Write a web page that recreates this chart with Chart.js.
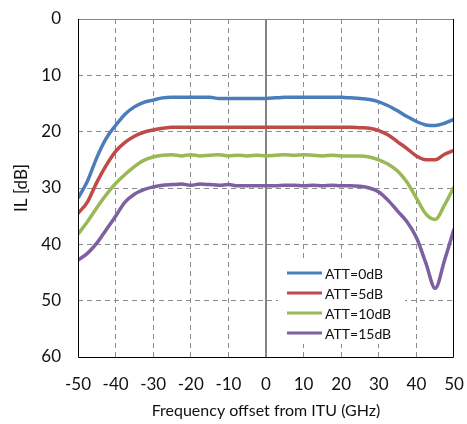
<!DOCTYPE html>
<html>
<head>
<meta charset="utf-8">
<script src="https://cdn.jsdelivr.net/npm/chart.js@4"></script>
<style>
  html, body { margin: 0; padding: 0; background: #fff; }
  #wrap { width: 467px; height: 424px; }
</style>
</head>
<body>
<div id="wrap"><canvas id="ilchart" width="467" height="424"></canvas></div>
<script>
// frequency offset (GHz)
var freq = [-50, -47.5, -45, -42.5, -40, -37.5, -35, -32.5, -30, -27.5, -25, -22.5, -20, -17.5, -15, -12.5, -10, -7.5, -5, -2.5,
  0, 2.5, 5, 7.5, 10, 12.5, 15, 17.5, 20, 22.5, 25, 27.5, 30, 32.5, 35, 37.5, 40, 42.5, 45, 47.5, 50];
var att0 = [31.8, 28.8, 24.6, 21.2, 18.9, 16.9, 15.6, 14.8, 14.4, 14.0, 13.9, 13.9, 13.9, 13.9, 13.9, 14.1, 14.1, 14.1, 14.1, 14.1,
  14.1, 14.0, 13.9, 13.9, 13.9, 13.9, 13.9, 13.9, 13.9, 14.0, 14.1, 14.3, 14.7, 15.4, 16.3, 17.3, 18.2, 18.8, 18.9, 18.5, 17.8];
var att5 = [34.5, 32.5, 29.0, 26.0, 23.5, 21.9, 20.8, 20.1, 19.7, 19.4, 19.2, 19.2, 19.2, 19.2, 19.2, 19.2, 19.2, 19.2, 19.2, 19.2,
  19.2, 19.2, 19.2, 19.2, 19.2, 19.2, 19.2, 19.2, 19.2, 19.2, 19.3, 19.4, 19.8, 20.6, 21.8, 23.0, 24.3, 25.0, 25.0, 24.0, 23.3];
var att10 = [38.2, 36.0, 33.5, 31.2, 29.2, 27.6, 26.2, 25.1, 24.5, 24.2, 24.1, 24.3, 24.1, 24.3, 24.2, 24.1, 24.3, 24.2, 24.3, 24.2,
  24.3, 24.2, 24.1, 24.2, 24.1, 24.2, 24.3, 24.2, 24.3, 24.3, 24.3, 24.5, 25.0, 25.8, 27.0, 29.0, 31.8, 34.6, 35.6, 33.0, 29.8];
var att15 = [42.8, 41.6, 39.8, 37.4, 35.0, 32.5, 31.1, 30.3, 29.8, 29.5, 29.4, 29.3, 29.5, 29.3, 29.4, 29.5, 29.4, 29.6, 29.6, 29.6,
  29.6, 29.6, 29.5, 29.5, 29.6, 29.5, 29.6, 29.5, 29.6, 29.6, 29.7, 30.0, 30.7, 32.2, 34.1, 36.0, 38.8, 43.3, 47.8, 42.8, 37.3];
var seriesNames = ['ATT=0dB', 'ATT=5dB', 'ATT=10dB', 'ATT=15dB'];
var seriesColors = ['#4a7ebb', '#be4b48', '#98b954', '#7d60a0'];
var seriesValues = [att0, att5, att10, att15];

var fontFam = 'Lato, "Open Sans", sans-serif';

function toPoints(vals)
{
  var pts = [];
  for (var i = 0; i < freq.length; i++) {
    pts.push({x: freq[i], y: vals[i]});
  }
  return pts;
}

var datasets = [];
for (var s = 0; s < seriesNames.length; s++) {
  datasets.push({
    label: seriesNames[s],
    data: toPoints(seriesValues[s]),
    borderColor: seriesColors[s],
    backgroundColor: seriesColors[s],
    borderWidth: 3.5,
    pointRadius: 0,
    cubicInterpolationMode: 'monotone',
    fill: false
  });
}

// frame, centre line and the boxed legend
var decorations = {
  id: 'decorations',
  beforeDatasetsDraw: function(chart) {
    var c = chart.ctx, a = chart.chartArea;
    var x0 = chart.scales.x.getPixelForValue(0);
    c.save();
    c.strokeStyle = '#858585';
    c.lineWidth = 2;
    c.beginPath();
    c.moveTo(x0, a.top);
    c.lineTo(x0, a.bottom);
    c.stroke();
    c.restore();
  },
  afterDraw: function(chart) {
    var c = chart.ctx, a = chart.chartArea;
    c.save();
    // frame
    c.lineWidth = 1;
    c.strokeStyle = '#868686';
    c.beginPath();
    c.moveTo(a.left, a.top + 0.5);
    c.lineTo(a.right, a.top + 0.5);
    c.stroke();
    c.strokeStyle = '#000';
    c.beginPath();
    c.moveTo(a.left + 0.5, a.top);
    c.lineTo(a.left + 0.5, a.bottom + 0.5);
    c.lineTo(a.right - 0.5, a.bottom + 0.5);
    c.lineTo(a.right - 0.5, a.top);
    c.stroke();
    // legend
    var bx = a.right - 176, by = a.bottom - 95, bw = 127, bh = 82;
    c.fillStyle = '#fff';
    c.fillRect(bx, by, bw, bh);
    c.font = '14px ' + fontFam;
    c.textBaseline = 'middle';
    c.textAlign = 'left';
    for (var i = 0; i < seriesNames.length; i++) {
      var yy = by + 11 + i * 20;
      c.strokeStyle = seriesColors[i];
      c.lineWidth = 3;
      c.beginPath();
      c.moveTo(bx + 9, yy);
      c.lineTo(bx + 44, yy);
      c.stroke();
      c.fillStyle = '#111';
      c.fillText(seriesNames[i], bx + 47, yy + 1);
    }
    c.restore();
  }
};

function gridColor(ctx)
{
  var v = ctx.tick ? ctx.tick.value : null;
  if (ctx.scale.axis === 'x' && (v === -50 || v === 0 || v === 50)) return 'rgba(0,0,0,0)';
  if (ctx.scale.axis === 'y' && (v === 0 || v === 60)) return 'rgba(0,0,0,0)';
  return '#8c8c8c';
}

new Chart(document.getElementById('ilchart'), {
  type: 'line',
  data: { datasets: datasets },
  plugins: [decorations],
  options: {
    responsive: false,
    animation: false,
    layout: { padding: { left: 0, top: 19, right: 13, bottom: 0 } },
    plugins: { legend: { display: false }, tooltip: { enabled: false } },
    scales: {
      x: {
        type: 'linear',
        min: -50, max: 50,
        afterFit: function(scale) {
          scale.height = 67;
          scale.paddingLeft = 0;
          scale.paddingRight = 0;
        },
        ticks: { stepSize: 10, padding: 17, color: '#111', font: { family: fontFam, size: 17 }, maxRotation: 0 },
        grid: { color: gridColor, lineWidth: 1, drawTicks: false },
        border: { display: false, dash: [5, 4] },
        title: { display: true, text: 'Frequency offset from ITU (GHz)', color: '#111',
                 font: { family: fontFam, size: 16 }, padding: { top: 0, bottom: 4 } }
      },
      y: {
        type: 'linear',
        reverse: true,
        min: 0, max: 60,
        afterFit: function(scale) {
          scale.width = 78;
          scale.paddingTop = 0;
          scale.paddingBottom = 0;
        },
        ticks: { stepSize: 10, padding: 17, color: '#111', font: { family: fontFam, size: 17 } },
        grid: { color: gridColor, lineWidth: 1, drawTicks: false },
        border: { display: false, dash: [5, 4] },
        title: { display: true, text: 'IL [dB]', color: '#111',
                 font: { family: fontFam, size: 17 }, padding: { top: 11, bottom: 0 } }
      }
    }
  }
});
</script>
</body>
</html>
